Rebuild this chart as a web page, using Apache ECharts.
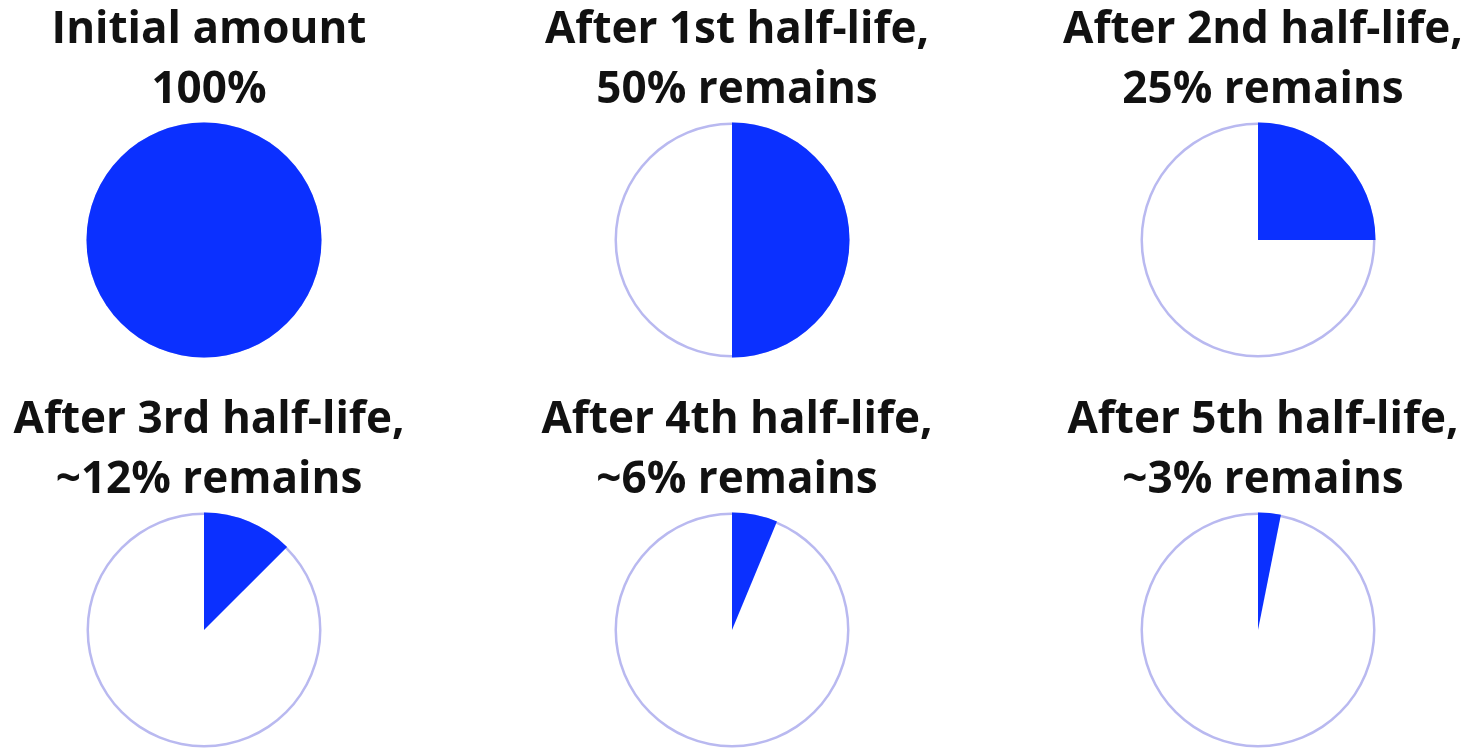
<!DOCTYPE html>
<html>
<head>
<meta charset="utf-8">
<script src="https://cdn.jsdelivr.net/npm/echarts@6/dist/echarts.min.js"></script>
<style>
html,body{margin:0;padding:0;background:#fff;}
#chart{width:1465px;height:749px;}
</style>
</head>
<body>
<div id="chart"></div>
<script>
// Data
const titleLine1 = ['Initial amount', 'After 1st half-life,', 'After 2nd half-life,', 'After 3rd half-life,', 'After 4th half-life,', 'After 5th half-life,'];
const titleLine2 = ['100%', '50% remains', '25% remains', '~12% remains', '~6% remains', '~3% remains'];
const remaining = [100, 50, 25, 12.5, 6.25, 3.125];
const sliceNames = ['Remaining', 'Decayed'];

const colX = [204, 732, 1258];
const rowY = [240, 630];
const R = 117.5;
const BLUE = '#0b30ff';
const RING = '#b9b9f0';
const FONT = 'Open Sans';

const titles = [];
const series = [];
remaining.forEach((v, i) => {
  const cx = colX[i % 3];
  const cy = rowY[Math.floor(i / 3)];
  titles.push({
    text: titleLine1[i] + '\n' + titleLine2[i],
    left: cx,
    top: cy - 240 - 5,
    textAlign: 'center',
    textStyle: { fontFamily: FONT, fontWeight: 'bold', fontSize: 44, color: '#111', lineHeight: 60 }
  });
  series.push({
    type: 'pie', silent: true, center: [cx, cy], radius: [R - 2.5, R],
    label: { show: false }, labelLine: { show: false }, z: 1,
    emphasis: { disabled: true }, animation: false,
    itemStyle: { color: RING },
    data: [{ value: 1, name: 'outline' }]
  });
  series.push({
    type: 'pie', silent: true, center: [cx, cy], radius: [0, R],
    startAngle: 90, clockwise: true, z: 2,
    label: { show: false }, labelLine: { show: false },
    emphasis: { disabled: true }, animation: false,
    data: [
      { value: v, name: sliceNames[0], itemStyle: { color: BLUE } },
      { value: 100 - v, name: sliceNames[1], itemStyle: { color: 'rgba(255,255,255,0)' } }
    ]
  });
});

const chart = echarts.init(document.getElementById('chart'), null, { renderer: 'canvas' });
chart.setOption({
  backgroundColor: '#ffffff',
  animation: false,
  title: titles,
  series: series
});
</script>
</body>
</html>
